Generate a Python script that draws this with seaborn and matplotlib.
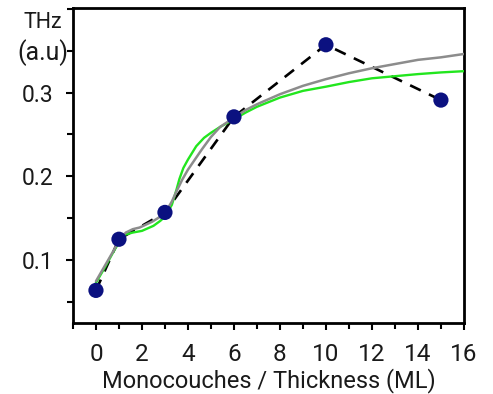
import matplotlib
matplotlib.use("Agg")
import matplotlib.pyplot as plt
import seaborn as sns
import pandas as pd
from matplotlib.ticker import MultipleLocator

# measured data points
thickness = [0, 1, 3, 6, 10, 15]
thz = [0.064, 0.125, 0.157, 0.271, 0.357, 0.291]

# gray fit curve
gray_x = [0, 0.4, 0.8, 1.0, 1.3, 1.6, 1.9, 2.45, 2.8, 3.0, 3.3, 3.5, 3.75, 4.0,
          4.2, 4.6, 5.0, 5.4, 6.0, 6.5, 7.0, 8.0, 9.0, 10.0, 11.0, 12.0, 13.0,
          14.0, 15.0, 16.0]
gray_y = [0.075, 0.094, 0.113, 0.124, 0.133, 0.137, 0.139, 0.146, 0.152, 0.156,
          0.170, 0.182, 0.196, 0.208, 0.216, 0.232, 0.247, 0.259, 0.270, 0.279,
          0.286, 0.298, 0.308, 0.316, 0.323, 0.329, 0.334, 0.339, 0.342, 0.346]

# green fit curve
green_x = [0, 0.4, 0.8, 1.2, 1.6, 2.0, 2.5, 2.8, 3.0, 3.3, 3.5, 3.63, 3.8, 4.0,
           4.36, 4.7, 5.0, 5.4, 6.0, 6.5, 7.0, 8.0, 9.0, 10.0, 11.0, 12.0, 13.0,
           14.0, 15.0, 16.0]
green_y = [0.073, 0.092, 0.112, 0.130, 0.133, 0.135, 0.141, 0.147, 0.152, 0.166,
           0.184, 0.197, 0.210, 0.220, 0.236, 0.246, 0.252, 0.259, 0.268, 0.276,
           0.283, 0.294, 0.302, 0.307, 0.3125, 0.317, 0.3195, 0.322, 0.324,
           0.3255]

x_ticks = [0, 2, 4, 6, 8, 10, 12, 14, 16]
y_ticks = [0.1, 0.2, 0.3]
y_tick_labels = ["0.1", "0.2", "0.3"]
x_label = "Monocouches / Thickness (ML)"
y_label_lines = ["THz", "(a.u)"]

sns.set_style("ticks")
plt.rcParams['font.family'] = ['Roboto', 'DejaVu Sans']
plt.rcParams['lines.scale_dashes'] = False
text_color = "#1a1a1a"

fig = plt.figure(figsize=(4.93, 3.94), dpi=100)
ax = fig.add_axes([0.148, 0.180, 0.793, 0.800])

pts = pd.DataFrame({"x": thickness, "y": thz})
gray = pd.DataFrame({"x": gray_x, "y": gray_y})
green = pd.DataFrame({"x": green_x, "y": green_y})

sns.lineplot(data=pts, x="x", y="y", ax=ax, color="black", lw=1.9,
             estimator=None, sort=False, zorder=2)
ax.lines[-1].set_dashes([8.5, 6.5])
sns.lineplot(data=green, x="x", y="y", ax=ax, color="#22e61e", lw=1.7,
             estimator=None, sort=False, zorder=3, solid_joinstyle="round")
sns.lineplot(data=gray, x="x", y="y", ax=ax, color="#8c8c8c", lw=1.8,
             estimator=None, sort=False, zorder=4, solid_joinstyle="round")
sns.scatterplot(data=pts, x="x", y="y", ax=ax, color="#0b1180", s=120,
                edgecolor="none", zorder=5)

ax.set_xlim(-1, 16)
ax.set_ylim(0.025, 0.401)
ax.set_xticks(x_ticks)
ax.xaxis.set_minor_locator(MultipleLocator(1))
ax.set_yticks(y_ticks)
ax.set_yticklabels(y_tick_labels)
ax.yaxis.set_minor_locator(MultipleLocator(0.05))

for s in ax.spines.values():
    s.set_linewidth(2.0)
    s.set_color("black")
    s.set_visible(True)

ax.tick_params(axis="both", which="major", length=5, width=1.5,
               color="black", labelcolor=text_color)
ax.tick_params(axis="both", which="minor", length=4, width=1.5, color="black")
ax.tick_params(axis="x", which="major", pad=9, labelsize=17.5)
ax.tick_params(axis="y", which="major", pad=9, labelsize=16.5)

ax.set_xlabel(x_label, fontsize=17, labelpad=1.5, color=text_color)
ax.set_ylabel("")
fig.text(43 / 493, 1 - 22 / 394, y_label_lines[0], ha="center", va="center",
         fontsize=15.5, color=text_color)
fig.text(43 / 493, 1 - 53 / 394, y_label_lines[1], ha="center", va="center",
         fontsize=18, color=text_color)

fig.savefig("out.png", dpi=100)
